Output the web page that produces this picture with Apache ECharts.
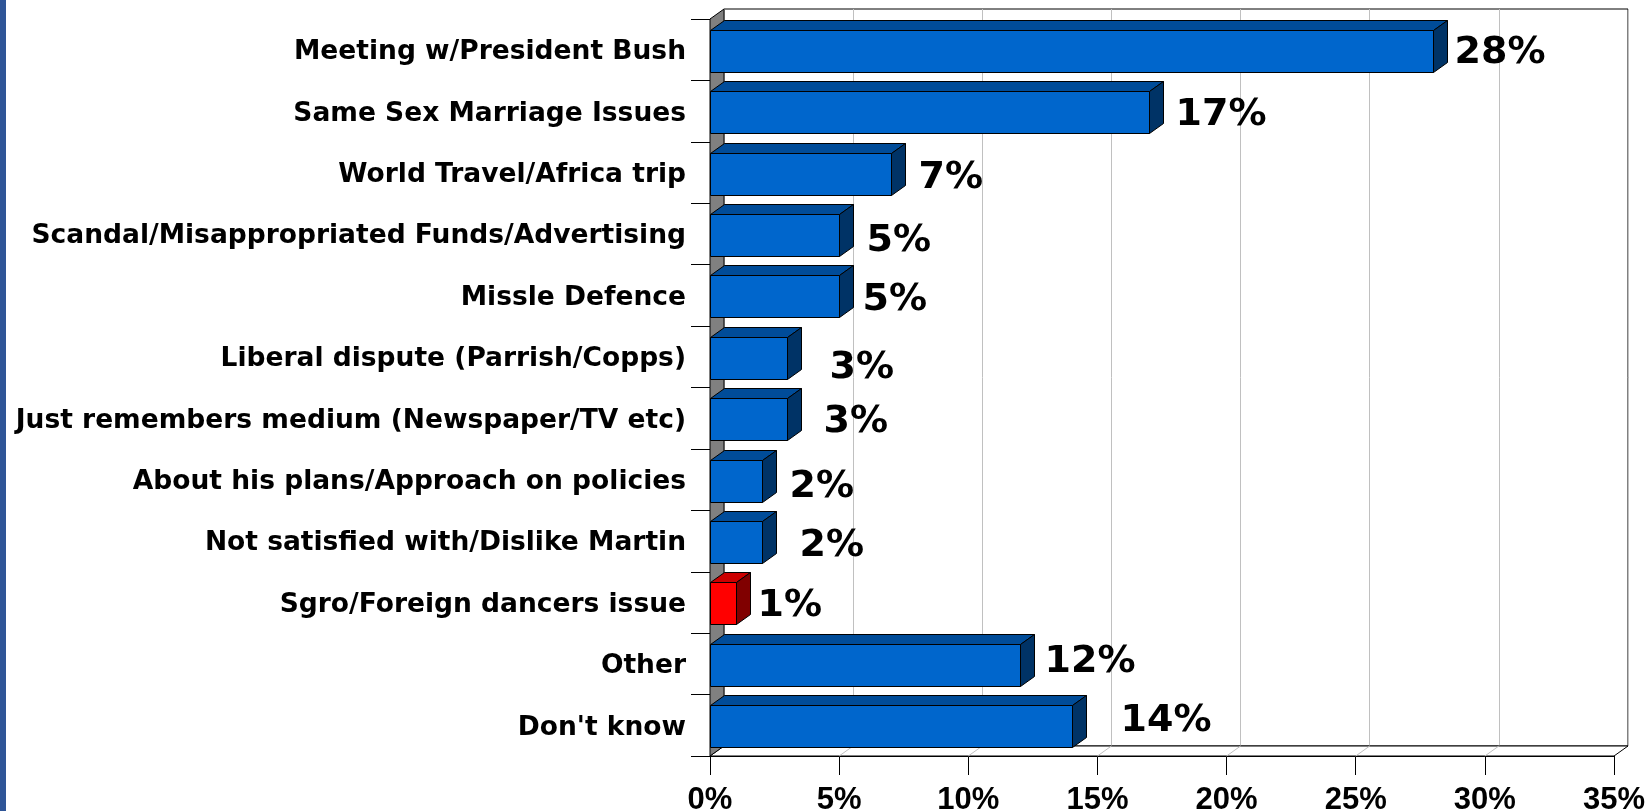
<!DOCTYPE html>
<html>
<head>
<meta charset="utf-8">
<script src="https://cdn.jsdelivr.net/npm/echarts@6/dist/echarts.min.js"></script>
<style>
html,body{margin:0;padding:0;background:#fff;}
#chart{width:1649px;height:811px;}
</style>
</head>
<body>
<div id="chart"></div>
<script>
const categories = [
  "Meeting w/President Bush",
  "Same Sex Marriage Issues",
  "World Travel/Africa trip",
  "Scandal/Misappropriated Funds/Advertising",
  "Missle Defence",
  "Liberal dispute (Parrish/Copps)",
  "Just remembers medium (Newspaper/TV etc)",
  "About his plans/Approach on policies",
  "Not satisfied with/Dislike Martin",
  "Sgro/Foreign dancers issue",
  "Other",
  "Don't know"
];
const values = [28, 17, 7, 5, 5, 3, 3, 2, 2, 1, 12, 14];
const xTickValues = [0, 5, 10, 15, 20, 25, 30, 35];
const highlightIndex = 9;

// label nudges (pixels) to mimic the original label placement
const labelNudgeX = [7, 12, 13, 13, 9, 28, 22, 13, 23, 7, 10, 34];
const labelNudgeY = [3, 4, 6, 7, 5, 11, 4, 7, 5, 4, -2, -4];

const DX = 14, DY = 10;
const xMin = xTickValues[0], xMax = xTickValues[xTickValues.length - 1];

const chart = echarts.init(document.getElementById('chart'), null, {renderer: 'canvas'});

function wallsRender(params, api) {
  const cs = params.coordSys;
  const x = cs.x, y = cs.y, w = cs.width, h = cs.height;
  const children = [];
  children.push({
    type: 'polygon',
    shape: {points: [[x, y + h], [x + DX, y + h - DY], [x + w + DX, y + h - DY], [x + w, y + h]]},
    style: {fill: '#ffffff', stroke: '#000', lineWidth: 1}
  });
  for (let i = 1; i < xTickValues.length - 1; i++) {
    const p = api.coord([xTickValues[i], categories.length - 1]);
    children.push({
      type: 'line',
      shape: {x1: p[0], y1: y + h, x2: p[0] + DX, y2: y + h - DY},
      style: {stroke: '#c0c0c0', lineWidth: 1}
    });
  }
  children.push({
    type: 'polygon',
    shape: {points: [[x, y], [x + DX, y - DY], [x + DX, y + h - DY], [x, y + h]]},
    style: {fill: '#808080', stroke: '#000', lineWidth: 1}
  });
  return {type: 'group', children: children};
}

function barsRender(params, api) {
  const idx = params.dataIndex;
  const val = api.value(0);
  const cat = api.value(1);
  const p0 = api.coord([0, cat]);
  const p1 = api.coord([val, cat]);
  const band = api.size([0, 1])[1];
  const bh = Math.round(band * 0.68);
  const x0 = Math.round(p0[0]) + 0.5, x1 = Math.round(p1[0]) + 0.5;
  const y0 = Math.round(p0[1] - bh / 2 + 1) + 0.5;
  const hi = idx === highlightIndex;
  const cFront = hi ? '#ff0000' : '#0066cc';
  const cTop = hi ? '#cc0000' : '#004c99';
  const cSide = hi ? '#800000' : '#003366';
  return {
    type: 'group',
    children: [
      {type: 'polygon', shape: {points: [[x0, y0], [x0 + DX, y0 - DY], [x1 + DX, y0 - DY], [x1, y0]]},
        style: {fill: cTop, stroke: '#000', lineWidth: 1}},
      {type: 'polygon', shape: {points: [[x1, y0], [x1 + DX, y0 - DY], [x1 + DX, y0 + bh - DY], [x1, y0 + bh]]},
        style: {fill: cSide, stroke: '#000', lineWidth: 1}},
      {type: 'rect', shape: {x: x0, y: y0, width: x1 - x0, height: bh},
        style: {fill: cFront, stroke: '#000', lineWidth: 1}},
      {type: 'text', style: {
        text: val + '%', x: x1 + DX + labelNudgeX[idx], y: p0[1] + labelNudgeY[idx],
        align: 'left', verticalAlign: 'middle',
        fontSize: 38, fontWeight: 'bold', fontFamily: 'DejaVu Sans', fill: '#000'
      }}
    ]
  };
}

const option = {
  backgroundColor: '#ffffff',
  animation: false,
  graphic: [{
    type: 'rect', left: 0, top: 0, shape: {width: 6, height: 811},
    style: {fill: '#2f5597'}
  }],
  grid: [
    {left: 710, right: 35, top: 19, bottom: 55, show: false, containLabel: false, outerBoundsMode: 'none'},
    {left: 710 + DX, right: 35 - DX, top: 19 - DY, bottom: 55 + DY, show: true, containLabel: false, outerBoundsMode: 'none',
      backgroundColor: '#ffffff', borderColor: '#000', borderWidth: 1}
  ],
  xAxis: [
    {type: 'value', gridIndex: 0, min: xMin, max: xMax, interval: 5,
      axisLine: {show: true, lineStyle: {color: '#000', width: 1}},
      axisTick: {show: true, length: 19, lineStyle: {color: '#000'}},
      splitLine: {show: false},
      axisLabel: {formatter: '{value}%', color: '#000', fontFamily: 'Liberation Sans', fontWeight: 'bold', fontSize: 31, margin: 29}
    },
    {type: 'value', gridIndex: 1, min: xMin, max: xMax, interval: 5,
      axisLine: {show: false}, axisTick: {show: false}, axisLabel: {show: false},
      splitLine: {show: true, lineStyle: {color: '#c0c0c0', width: 1}}
    }
  ],
  yAxis: [
    {type: 'category', gridIndex: 0, data: categories, inverse: true,
      axisLine: {show: true, lineStyle: {color: '#000'}},
      axisTick: {show: true, length: 19, lineStyle: {color: '#000'}},
      axisLabel: {
        margin: 24,
        formatter: function (v) { return '{c|' + v + '}'; },
        rich: {c: {color: '#000', fontFamily: 'DejaVu Sans', fontWeight: 'bold', fontSize: 26.5, padding: [5, 0, 0, 0]}}
      }
    },
    {type: 'category', gridIndex: 1, data: categories, inverse: true, show: false}
  ],
  series: [
    {type: 'custom', xAxisIndex: 0, yAxisIndex: 0, clip: false, silent: true,
      renderItem: wallsRender, data: [[0, 0]], z: 1},
    {type: 'custom', xAxisIndex: 0, yAxisIndex: 0, clip: false,
      renderItem: barsRender, encode: {x: 0, y: 1},
      data: values.map((v, i) => [v, i]), z: 2}
  ]
};
chart.setOption(option);
</script>
</body>
</html>
